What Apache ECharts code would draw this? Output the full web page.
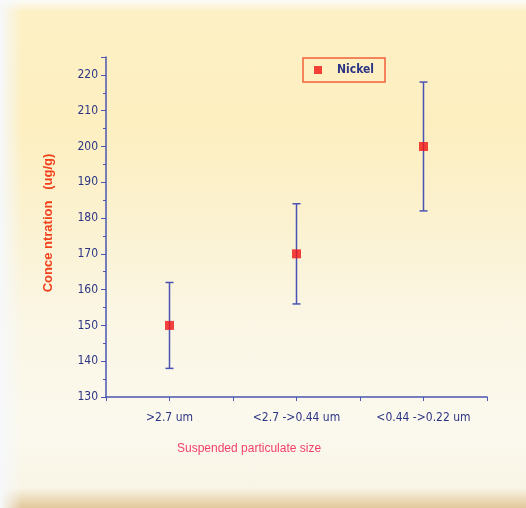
<!DOCTYPE html>
<html><head><meta charset="utf-8">
<script src="https://cdn.jsdelivr.net/npm/echarts@6/dist/echarts.min.js"></script>
<style>
html,body{margin:0;padding:0;}
#wrap{width:526px;height:508px;position:relative;
background:
 linear-gradient(to right, rgba(246,248,250,1) 0px, rgba(246,248,250,0) 22px),
 linear-gradient(to bottom, #fbfbf8 0px, #fdf0c4 12px, #fdefc0 25%, #fbf2d2 45%, #fbf6e4 62%, #fbf9ee 85%, #f9f5e6 96%, #e2c79a 100%);}
#chart{width:526px;height:508px;}
</style></head>
<body><div id="wrap"><div id="chart"></div></div>
<script>
const categories = ['>2.7 um', '<2.7 ->0.44 um', '<0.44 ->0.22 um'];
const nickelMean = [150, 170, 200];
const nickelLow  = [138, 156, 182];
const nickelHigh = [162, 184, 218];
const yTicks = [130, 140, 150, 160, 170, 180, 190, 200, 210, 220];

const xPos = categories.map((c, i) => 2 * i + 1);
const navy = '#2c3584';
const axisBlue = '#4b56b2';
const font = "'Liberation Sans Narrow','DejaVu Sans Condensed','Liberation Sans',sans-serif";

const chart = echarts.init(document.getElementById('chart'), null, {renderer: 'canvas'});
chart.setOption({
  backgroundColor: 'transparent',
  animation: false,
  grid: {left: 106, right: 39, top: 57, bottom: 111},
  legend: {
    data: ['Nickel'],
    left: 303, top: 58,
    padding: [6, 11, 6, 11],
    borderColor: '#f0603a', borderWidth: 1.5,
    icon: 'rect', itemWidth: 8, itemHeight: 8, itemGap: 10,
    textStyle: {color: navy, fontWeight: 'bold', fontSize: 12, fontFamily: font, padding: [0, 6, 0, 10]}
  },
  xAxis: {
    type: 'value', min: 0, max: 6, interval: 1,
    splitLine: {show: false},
    axisLine: {show: true, lineStyle: {color: axisBlue, width: 1.5}},
    axisTick: {show: true, length: 4, lineStyle: {color: axisBlue}},
    axisLabel: {
      color: navy, fontSize: 12, fontFamily: font, margin: 15,
      showMinLabel: true, showMaxLabel: true,
      formatter: v => (v % 2 === 1 ? categories[(v - 1) / 2] : '')
    }
  },
  yAxis: {
    type: 'value', min: yTicks[0], max: 225, interval: 10,
    splitLine: {show: false},
    axisLine: {show: true, lineStyle: {color: axisBlue, width: 1.5}},
    axisTick: {show: true, length: 5, lineStyle: {color: axisBlue}},
    minorTick: {show: true, splitNumber: 2, length: 3, lineStyle: {color: axisBlue}},
    axisLabel: {
      color: navy, fontSize: 12, fontFamily: font, margin: 8,
      formatter: v => (yTicks.indexOf(v) >= 0 ? String(v) : '')
    },
    name: 'Conce ntration   (ug/g)',
    nameLocation: 'middle', nameRotate: 90, nameGap: 51,
    nameTextStyle: {color: '#f2401c', fontWeight: 'bold', fontSize: 13, fontFamily: "'Liberation Sans',sans-serif", padding: [0, 0, 0, 8]}
  },
  graphic: [{
    type: 'text', left: 177, top: 443,
    style: {text: 'Suspended particulate size', fill: '#f2406a', font: "12px 'Liberation Sans',sans-serif"}
  }],
  series: [
    {
      name: 'errors', type: 'custom',
      data: xPos.map((x, i) => [x, nickelLow[i], nickelHigh[i]]),
      encode: {x: 0, y: [1, 2]},
      renderItem: function (params, api) {
        const x = api.value(0);
        const lo = api.coord([x, api.value(1)]);
        const hi = api.coord([x, api.value(2)]);
        const w = 4;
        const st = {stroke: '#4a52b4', lineWidth: 1.5};
        return {type: 'group', children: [
          {type: 'line', shape: {x1: lo[0], y1: lo[1], x2: hi[0], y2: hi[1]}, style: st},
          {type: 'line', shape: {x1: lo[0] - w, y1: lo[1], x2: lo[0] + w, y2: lo[1]}, style: st},
          {type: 'line', shape: {x1: hi[0] - w, y1: hi[1], x2: hi[0] + w, y2: hi[1]}, style: st}
        ]};
      },
      z: 2
    },
    {
      name: 'Nickel', type: 'scatter',
      data: xPos.map((x, i) => [x, nickelMean[i]]),
      symbol: 'rect', symbolSize: 9,
      itemStyle: {color: '#f01414'},
      z: 3
    }
  ]
});
</script></body></html>
